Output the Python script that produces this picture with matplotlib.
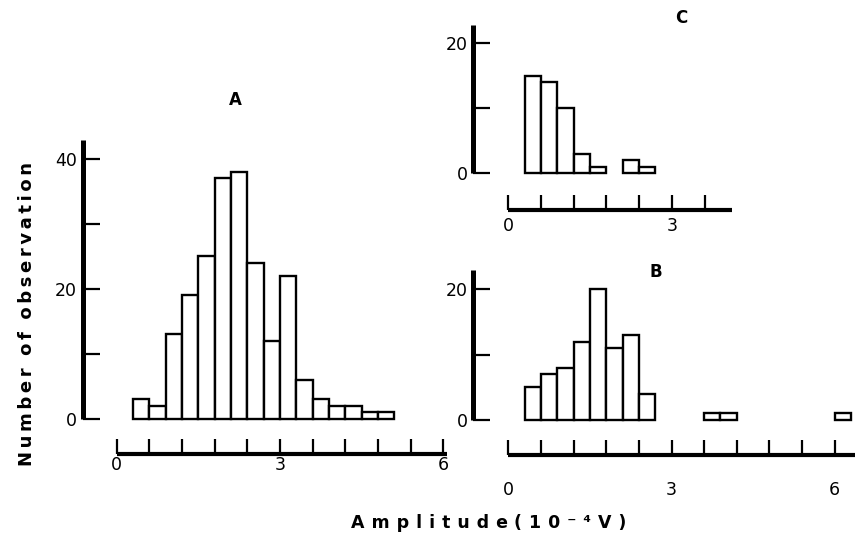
import numpy as np
import matplotlib
matplotlib.use("Agg")
import matplotlib.pyplot as plt

plt.rcParams['font.family'] = ['DejaVu Sans']

# bins are 0.3 (x 10^-4 V) wide, given by their left edge
bin_w = 0.3
a_left = [0.3, 0.6, 0.9, 1.2, 1.5, 1.8, 2.1, 2.4, 2.7, 3.0, 3.3, 3.6, 3.9, 4.2, 4.5, 4.8]
a_count = [3, 2, 13, 19, 25, 37, 38, 24, 12, 22, 6, 3, 2, 2, 1, 1]

b_left = [0.3, 0.6, 0.9, 1.2, 1.5, 1.8, 2.1, 2.4, 2.7, 3.0, 3.3, 3.6, 3.9,
          4.2, 4.5, 4.8, 5.1, 5.4, 5.7, 6.0]
b_count = [5, 7, 8, 12, 20, 11, 13, 4, 0, 0, 0, 1, 1, 0, 0, 0, 0, 0, 0, 1]

c_left = [0.3, 0.6, 0.9, 1.2, 1.5, 1.8, 2.1, 2.4]
c_count = [15, 14, 10, 3, 1, 0, 2, 1]

W, H = 856, 542
PT = 72 / 100.0  # px -> points at dpi 100


def px_rect(x0, y0, w, h):
    # x0, y0 = pixel position of data (0, 0), from top left of image
    return [x0 / W, (H - y0) / H, w / W, h / H]


def spaced(s, gap='\u2009'):
    return ' '.join(gap.join(w) for w in s.split(' '))


fig = plt.figure(figsize=(W / 100, H / 100), dpi=100)

panels = [
    # name, data, rect, xlim, ylim, x spine end, y spine top, xticks, ytick max, x pad, spine offsets
    ('A', a_left, a_count, px_rect(116.7, 418.5, 54.44 * 6.2, 6.5 * 43), (0, 6.2), (0, 43),
     6.07, 42.8, np.arange(0, 6.01, 0.6), 40, 1.5, 34.2, 35.5),
    ('C', c_left, c_count, px_rect(508.3, 173.3, 54.5 * 4.2, 6.5 * 23), (0, 4.2), (0, 23),
     4.1, 22.8, np.arange(0, 3.61, 0.6), 20, 5, 35.0, 36.7),
    ('B', b_left, b_count, px_rect(508.3, 420.0, 54.4 * 6.5, 6.53 * 23), (0, 6.5), (0, 23),
     6.37, 23.0, np.arange(0, 6.01, 0.6), 20, 19, 35.0, 34.5),
]

axes = {}
for name, left, count, rect, xlim, ylim, xend, ytop, xt, ymax, xpad, loff, boff in panels:
    ax = fig.add_axes(rect)
    axes[name] = ax
    left = np.array(left)
    count = np.array(count)
    keep = count > 0
    ax.bar(left[keep], count[keep], width=bin_w, align='edge',
           facecolor='white', edgecolor='black', linewidth=1.7, clip_on=False)
    ax.set_xlim(*xlim)
    ax.set_ylim(*ylim)
    ax.set_facecolor('none')

    for s in ('top', 'right'):
        ax.spines[s].set_visible(False)
    ax.spines['left'].set_position(('outward', loff * PT))
    ax.spines['bottom'].set_position(('outward', boff * PT))
    ax.spines['left'].set_bounds(0, ytop)
    ax.spines['bottom'].set_bounds(0, xend)
    ax.spines['left'].set_linewidth(3.6)
    ax.spines['bottom'].set_linewidth(3.0)
    ax.spines['left'].set_capstyle('butt')
    ax.spines['bottom'].set_capstyle('butt')

    ax.set_xticks(xt)
    ax.set_xticklabels([('%d' % round(v)) if abs(v - round(v)) < 1e-6 and round(v) % 3 == 0 else ''
                        for v in xt])
    yt = np.arange(0, ymax + 1, 10)
    ax.set_yticks(yt)
    ax.set_yticklabels([str(v) if v % 20 == 0 else '' for v in yt])
    ax.tick_params(axis='x', direction='in', length=11, width=1.6, pad=xpad,
                   labelsize=12.5)
    ax.tick_params(axis='y', direction='in', length=12, width=1.6, pad=4,
                   labelsize=12.5)

# panel letters
fig.text(235 / W, 1 - 100 / H, 'A', ha='center', va='center', fontsize=12, fontweight='bold')
fig.text(681 / W, 1 - 18 / H, 'C', ha='center', va='center', fontsize=12, fontweight='bold')
fig.text(656 / W, 1 - 272 / H, 'B', ha='center', va='center', fontsize=12, fontweight='bold')

# shared axis titles
fig.text(489 / W, 1 - 523 / H, spaced('Amplitude (10\u207b\u2074V)', '\u2009\u2009'),
         ha='center', va='center', fontsize=12.5, fontweight='bold')
fig.text(27 / W, 1 - 314 / H, spaced('Number  of  observation', '\u2009'),
         ha='center', va='center', rotation=90, fontsize=13, fontweight='bold')

fig.savefig('out.png', dpi=100)
